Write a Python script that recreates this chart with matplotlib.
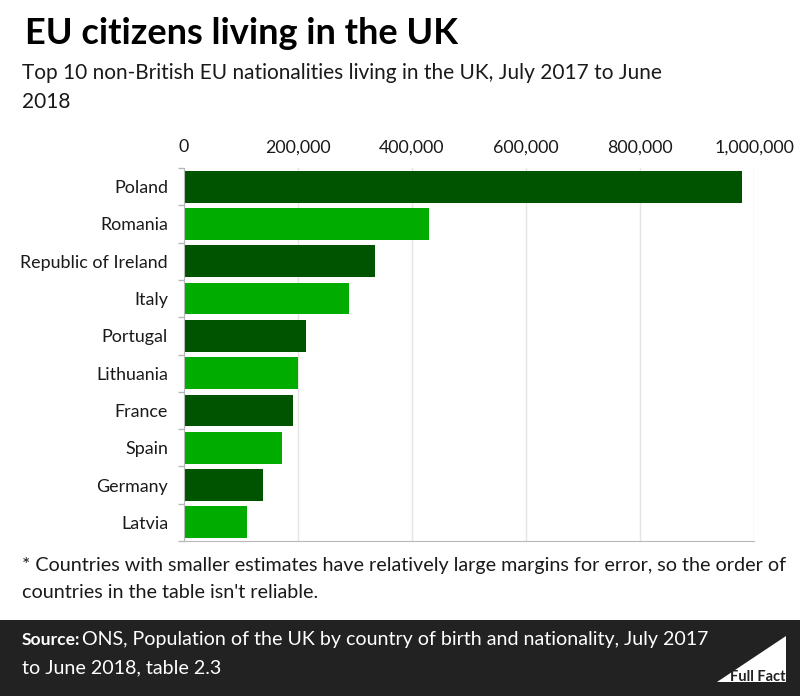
# -*- encoding: utf-8 -*-
import matplotlib
matplotlib.use('Agg')
import matplotlib.pyplot as plt
from matplotlib.patches import Polygon, Rectangle
from matplotlib.ticker import FuncFormatter

countries = ['Poland', 'Romania', 'Republic of Ireland', 'Italy', 'Portugal',
             'Lithuania', 'France', 'Spain', 'Germany', 'Latvia']
citizens = [979000, 430000, 335000, 290000, 214000,
            200000, 191000, 172000, 139000, 110000]
ticks = [0, 200000, 400000, 600000, 800000, 1000000]

W, H = 800, 696
DARK = '#005400'
LIGHT = '#00ac00'
TEXT = '#1a1a1a'
AXIS = '#b8b8b8'

plt.rcParams['font.family'] = ['Lato', 'DejaVu Sans']

fig = plt.figure(figsize=(W / 100, H / 100), dpi=100)


def px(x, y):
    return x / W, 1 - y / H


# plot area in pixels: left 184, right 754, top 168, bottom 541
ax = fig.add_axes([184 / W, 1 - 541 / H, 570 / W, 373 / H])
colors = [DARK if i % 2 == 0 else LIGHT for i in range(len(countries))]
ax.barh(countries, citizens, height=0.85, color=colors, zorder=3)
ax.set_xlim(0, 1000000)
ax.set_ylim(len(countries) - 0.5, -0.5)
ax.set_xticks(ticks)
ax.xaxis.set_major_formatter(FuncFormatter(lambda v, p: f'{int(v):,}'))
ax.xaxis.tick_top()
ax.grid(axis='x', color='#e4e4e4', lw=1, zorder=0)
ax.tick_params(axis='x', length=0, pad=9, labelsize=12.8, labelcolor=TEXT)
ax.tick_params(axis='y', length=0, pad=11.5, labelsize=12.9, labelcolor=TEXT)

# little marks between the bands on the left axis
ax.set_yticks([i - 0.5 for i in range(len(countries) + 1)], minor=True)
ax.tick_params(axis='y', which='minor', length=4.5, width=1, color=AXIS)

for s in ['top', 'right']:
    ax.spines[s].set_visible(False)
for s in ['left', 'bottom']:
    ax.spines[s].set_color(AXIS)
    ax.spines[s].set_zorder(4)

fig.text(*px(25, 33), 'EU citizens living in the UK', fontsize=26,
         fontweight='bold', color='black', va='center', ha='left')
fig.text(*px(22, 73), 'Top 10 non-British EU nationalities living in the UK, July 2017 to June',
         fontsize=15, color=TEXT, va='center', ha='left')
fig.text(*px(22, 102), '2018', fontsize=15, color=TEXT, va='center', ha='left')

fig.text(*px(22, 566), '* Countries with smaller estimates have relatively large margins for error, so the order of',
         fontsize=14.2, color=TEXT, va='center', ha='left')
fig.text(*px(22, 592), "countries in the table isn't reliable.",
         fontsize=14.2, color=TEXT, va='center', ha='left')

# footer band and logo
fig.add_artist(Rectangle(px(0, 696), 1, 76 / H, transform=fig.transFigure,
                         color='#222222', lw=0))
fig.text(*px(22, 640), 'Source:', fontsize=12.6, fontweight='bold',
         color='white', va='center', ha='left')
fig.text(*px(82, 640), 'ONS, Population of the UK by country of birth and nationality, July 2017',
         fontsize=14.1, color='white', va='center', ha='left')
fig.text(*px(22, 668), 'to June 2018, table 2.3', fontsize=14.1, color='white',
         va='center', ha='left')
fig.add_artist(Polygon([px(717, 682), px(786, 682), px(786, 636)],
                       closed=True, transform=fig.transFigure, color='white', lw=0))
fig.text(*px(786, 677), 'Full Fact', fontsize=10.5, fontweight='bold', color='#222222',
         va='center', ha='right')

fig.savefig('out.png', dpi=100)
